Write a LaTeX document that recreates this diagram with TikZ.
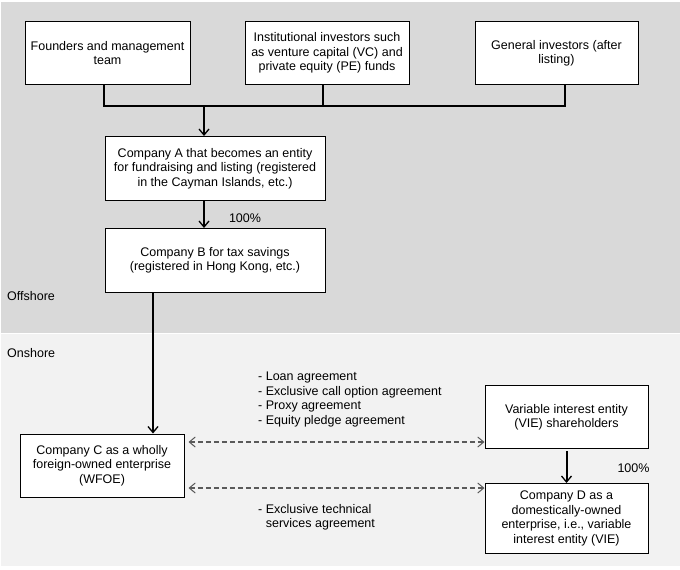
\documentclass[tikz,border=0pt]{standalone}
\usepackage{fontspec}
\setmainfont{Liberation Sans}
\usetikzlibrary{positioning,arrows.meta}

\definecolor{offgray}{HTML}{D9D9D9}
\definecolor{ongray}{HTML}{F2F2F2}
\definecolor{agreegray}{HTML}{5A5A5A}

\tikzset{
  box/.style={draw, fill=white, line width=1pt, align=center, inner sep=2pt,
              font=\fontsize{12.5}{14.4}\selectfont},
  lbl/.style={align=left, inner sep=0pt, font=\fontsize{12.5}{14.5}\selectfont},
  link/.style={line width=2pt},
  own/.style={line width=2pt, -{Straight Barb[length=6pt,width=10pt,line width=1.3pt]}},
  agree/.style={draw=agreegray, line width=1.4pt, dash pattern=on 5pt off 3pt,
                {Straight Barb[length=6pt,width=10pt,line width=1pt]}-{Straight Barb[length=6pt,width=10pt,line width=1pt]}}
}

\begin{document}
\begin{tikzpicture}[x=1pt,y=-1pt,on grid]
  \useasboundingbox (0,0) rectangle (680,570);
  \fill[offgray] (1,2) rectangle (680,333);
  \fill[ongray] (1,334) rectangle (680,566);

  % offshore
  \node[box, minimum width=165pt, minimum height=63pt] (found) at (107.5,53)
    {Founders and management\\team};
  \node[box, minimum width=164pt, minimum height=63pt, right=219.5pt of found] (inst)
    {Institutional investors such\\as venture capital (VC) and\\private equity (PE) funds};
  \node[box, minimum width=163pt, minimum height=63pt, right=229.5pt of inst] (gen)
    {General investors (after\\listing)};
  \node[box, minimum width=220pt, minimum height=64pt] (A) at (215,168.5)
    {Company A that becomes an entity\\for fundraising and listing (registered\\in the Cayman Islands, etc.)};
  \node[box, minimum width=220pt, minimum height=64pt, below=92pt of A] (B)
    {Company B for tax savings\\(registered in Hong Kong, etc.)};
  \node[lbl, anchor=west] (off) at (7,296.5) {Offshore};

  % onshore
  \node[lbl, anchor=west] (on) at (7,353) {Onshore};
  \node[box, minimum width=164pt, minimum height=63pt] (C) at (102,465.5)
    {Company C as a wholly\\foreign-owned enterprise\\(WFOE)};
  \node[box, minimum width=163pt, minimum height=63pt] (vie) at (566.5,417)
    {Variable interest entity\\(VIE) shareholders};
  \node[box, minimum width=163pt, minimum height=70pt, below=101.5pt of vie] (D)
    {Company D as a\\domestically-owned\\enterprise, i.e., variable\\interest entity (VIE)};

  \coordinate (bus) at (204,106);
  \draw[link] ([xshift=-3.5pt]found.south) |- (bus) -| ([xshift=8.5pt]gen.south);
  \draw[link] ([xshift=-4pt]inst.south) -- ++(0,22);
  \draw[own] (bus) -- (bus |- A.north);
  \draw[own] ([xshift=-11pt]A.south) -- node[lbl, right=24pt, pos=0.65] (pA) {100\%} ([xshift=-11pt]B.north);
  \draw[own] ([xshift=-62pt]B.south) -- ([xshift=51pt]C.north);
  \draw[own, shorten <=2pt] (vie.south) -- node[lbl, right=50pt, pos=0.55] (pD) {100\%} (D.north);

  \draw[agree] ([xshift=4pt,yshift=23.5pt]C.east) -- ([yshift=-25pt]vie.west);
  \draw[agree] ([xshift=4pt,yshift=-22.5pt]C.east) -- ([yshift=30.5pt]D.west);
  \node[lbl, anchor=north west] (loan) at (258,372)
    {- Loan agreement\\- Exclusive call option agreement\\- Proxy agreement\\- Equity pledge agreement};
  \node[lbl, anchor=north west] (tech) at (258,504)
    {- Exclusive technical\\\phantom{- }services agreement};
\end{tikzpicture}
\end{document}
